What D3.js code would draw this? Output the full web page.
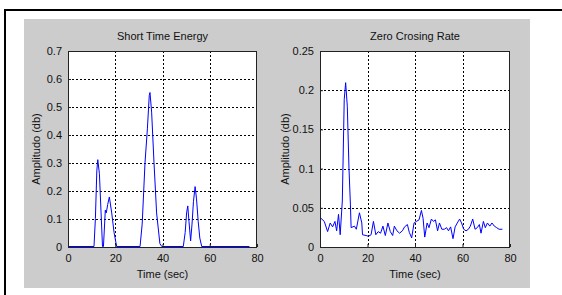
<!DOCTYPE html>
<html>
<head>
<meta charset="utf-8">
<script src="https://cdn.jsdelivr.net/npm/d3@7"></script>
<style>
  body { margin: 0; background: #fff; }
  svg text { font-family: "Liberation Sans", Arial, sans-serif; font-size: 11px; fill: #111; }
</style>
</head>
<body>
<div id="chart"></div>
<script>
// Short Time Energy (sec, amplitude)
const steTime  = [0, 11.0, 11.6, 12.2, 12.6, 13.3, 14.0, 14.6, 15.0, 15.8, 16.2, 16.8, 17.5, 18.5, 19.5, 20.6,
                  30.5, 31.4, 32.6, 33.6, 34.4, 34.7, 35.4, 36.4, 37.5, 38.9, 39.7,
                  48.8, 49.6, 50.2, 50.7, 51.2, 51.9, 52.5, 53.1, 53.8, 54.4, 55.1, 55.8, 56.6, 76.8];
const steValue = [0, 0, 0.10, 0.27, 0.31, 0.26, 0.12, 0, 0, 0.13, 0.12, 0.15, 0.177, 0.12, 0.05, 0,
                  0, 0.08, 0.30, 0.42, 0.54, 0.55, 0.48, 0.30, 0.12, 0.01, 0,
                  0, 0.05, 0.12, 0.145, 0.09, 0.02, 0.08, 0.16, 0.214, 0.17, 0.09, 0.03, 0, 0];

// Zero Crossing Rate
const zcrTime  = [0.4, 1.8, 3.2, 4.3, 5.3, 6.3, 7.0, 7.8, 8.5, 9.4, 10.2, 10.8, 11.5, 12.2, 12.8, 13.1,
                  14.5, 15.3, 16.6, 17.6, 17.9, 19.4, 20.4, 21.5, 22.5, 23.5, 24.5, 25.5, 26.5, 27.5,
                  28.6, 29.6, 30.6, 31.3, 32.4, 33.5, 34.7, 35.6, 36.8, 37.6, 38.6, 39.6, 40.6, 41.7,
                  42.7, 43.4, 44.1, 45.1, 45.9, 46.9, 47.8, 48.6, 49.5, 50.3, 51.3, 52.3, 53.3, 54.1,
                  55.0, 56.0, 56.9, 57.8, 58.8, 59.6, 60.5, 61.5, 62.5, 63.3, 64.3, 65.3, 66.2, 67.1,
                  67.8, 68.8, 69.6, 70.5, 71.5, 72.4, 73.4, 74.4, 75.4, 76.8];
const zcrValue = [0.036, 0.032, 0.019, 0.030, 0.025, 0.032, 0.020, 0.041, 0.015, 0.058, 0.1875, 0.209, 0.179, 0.100, 0.054, 0.024,
                  0.026, 0.022, 0.043, 0.030, 0.015, 0.014, 0.013, 0.015, 0.032, 0.015, 0.019, 0.017, 0.026, 0.014,
                  0.030, 0.019, 0.014, 0.026, 0.020, 0.017, 0.020, 0.025, 0.028, 0.018, 0.011, 0.030, 0.032, 0.034,
                  0.046, 0.036, 0.012, 0.030, 0.024, 0.035, 0.032, 0.034, 0.020, 0.030, 0.022, 0.022, 0.024, 0.020,
                  0.025, 0.010, 0.025, 0.030, 0.035, 0.030, 0.022, 0.020, 0.022, 0.026, 0.035, 0.022, 0.024, 0.028,
                  0.017, 0.032, 0.024, 0.030, 0.026, 0.030, 0.026, 0.024, 0.022, 0.022];

const xTicks = [0, 20, 40, 60, 80];
const steTicks = [0, 0.1, 0.2, 0.3, 0.4, 0.5, 0.6, 0.7];
const zcrTicks = [0, 0.05, 0.1, 0.15, 0.2, 0.25];

const W = 562, H = 295;
const svg = d3.select('#chart').append('svg').attr('width', W).attr('height', H);

// outer frame and gray figure background
svg.append('rect').attr('x', 5).attr('y', 10).attr('width', 600).attr('height', 300)
  .attr('fill', 'none').attr('stroke', '#000').attr('stroke-width', 2);
svg.append('rect').attr('x', 24).attr('y', 19).attr('width', 506).attr('height', 269).attr('fill', '#cccccc');

function drawPanel (cfg) {
  const g = svg.append('g').attr('transform', `translate(${cfg.left},${cfg.top})`);
  const w = cfg.width, h = cfg.height;

  const x = d3.scaleLinear().domain([0, 80]).range([0, w]);
  const y = d3.scaleLinear().domain(cfg.yDomain).range([h, 0]);

  g.append('rect').attr('width', w).attr('height', h).attr('fill', '#fff');

  // dotted grid
  g.append('g').selectAll('line').data(xTicks.slice(1, -1)).join('line')
    .attr('x1', d => Math.round(x(d)) + 0.5).attr('x2', d => Math.round(x(d)) + 0.5)
    .attr('y1', 0).attr('y2', h)
    .attr('stroke', '#000').attr('stroke-dasharray', '2,2');
  g.append('g').selectAll('line').data(cfg.yTicks.slice(1, -1)).join('line')
    .attr('y1', d => Math.round(y(d)) + 0.5).attr('y2', d => Math.round(y(d)) + 0.5)
    .attr('x1', 0).attr('x2', w)
    .attr('stroke', '#000').attr('stroke-dasharray', '2,2');

  // data line
  const pts = cfg.xs.map((t, i) => [t, cfg.ys[i]]);
  g.append('path').datum(pts)
    .attr('d', d3.line().x(d => x(d[0])).y(d => y(d[1]) - 0.5))
    .attr('fill', 'none').attr('stroke', '#0000ff').attr('stroke-width', 1);

  // axes box
  g.append('rect').attr('x', 0.5).attr('y', 0.5).attr('width', w - 1).attr('height', h)
    .attr('fill', 'none').attr('stroke', '#222');

  const axX = d3.axisBottom(x).tickValues(xTicks).tickSize(-3).tickPadding(7).tickFormat(d3.format('d'));
  const gx = g.append('g').attr('transform', `translate(0,${h})`).call(axX)
    .attr('font-family', null).attr('font-size', null);
  gx.select('.domain').remove();
  gx.selectAll('line').attr('stroke', '#222');

  const axY = d3.axisLeft(y).tickValues(cfg.yTicks).tickSize(-3).tickPadding(6)
    .tickFormat(d => d === 0 ? '0' : String(+d.toFixed(2)));
  const gy = g.append('g').call(axY)
    .attr('font-family', null).attr('font-size', null);
  gy.select('.domain').remove();
  gy.selectAll('line').attr('stroke', '#222');

  g.append('text').attr('x', w / 2).attr('y', -11).attr('text-anchor', 'middle').text(cfg.title);
  g.append('text').attr('x', w / 2).attr('y', h + 31).attr('text-anchor', 'middle').text('Time (sec)');
  g.append('text').attr('transform', `translate(${cfg.yLabelX},${h / 2}) rotate(-90)`)
    .attr('text-anchor', 'middle').text('Amplitudo (db)');
}

drawPanel({left: 68, top: 51, width: 189, height: 196, yDomain: [0, 0.7], yTicks: steTicks,
  xs: steTime, ys: steValue, title: 'Short Time Energy', yLabelX: -28});
drawPanel({left: 320, top: 51, width: 190, height: 196, yDomain: [0, 0.25], yTicks: zcrTicks,
  xs: zcrTime, ys: zcrValue, title: 'Zero Crosing Rate', yLabelX: -31});
</script>
</body>
</html>
